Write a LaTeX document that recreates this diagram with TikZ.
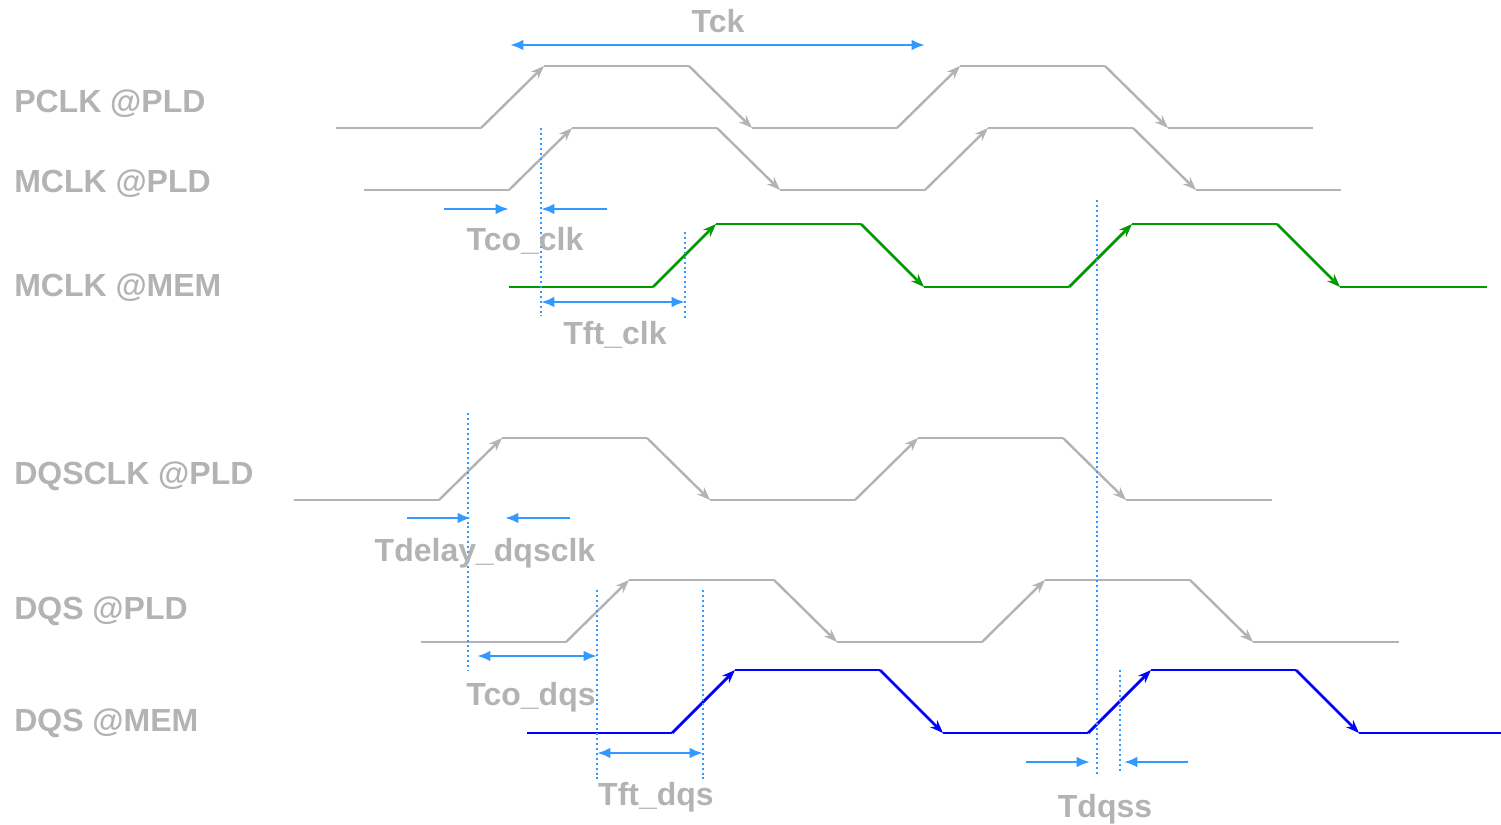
\documentclass[tikz,border=0pt]{standalone}
\usepackage{fontspec}
\setmainfont{Liberation Sans}
\usetikzlibrary{arrows.meta}
\definecolor{lblgray}{HTML}{B3B3B3}
\definecolor{ann}{HTML}{3399FF}
\definecolor{wgray}{HTML}{B3B3B3}
\definecolor{wgreen}{HTML}{009900}
\definecolor{wblue}{HTML}{0000FF}
\newcommand\mywave[6]{% style, x0, xr, ylow, yhigh, xend
  \draw[#1] (#2,#4) -- (#3,#4);
  \draw[#1,-{Stealth[length=10pt,width=7.5pt]}] (#3,#4) -- (#3+63,#5);
  \draw[#1] (#3+63,#5) -- (#3+208,#5);
  \draw[#1,-{Stealth[length=10pt,width=7.5pt]}] (#3+208,#5) -- (#3+271,#4);
  \draw[#1] (#3+271,#4) -- (#3+416,#4);
  \draw[#1,-{Stealth[length=10pt,width=7.5pt]}] (#3+416,#4) -- (#3+479,#5);
  \draw[#1] (#3+479,#5) -- (#3+624,#5);
  \draw[#1,-{Stealth[length=10pt,width=7.5pt]}] (#3+624,#5) -- (#3+687,#4);
  \draw[#1] (#3+687,#4) -- (#6,#4);
}
\begin{document}
\begin{tikzpicture}[x=0.75pt,y=-0.75pt,
  siglbl/.style={font=\fontsize{24}{28}\selectfont\bfseries, text=lblgray, inner sep=0pt, anchor=base west},
  tlbl/.style={font=\fontsize{24}{28}\selectfont\bfseries, text=lblgray, inner sep=0pt, anchor=base},
  graywave/.style={draw=wgray, line width=1.8pt},
  greenwave/.style={draw=wgreen, line width=2.1pt},
  bluewave/.style={draw=wblue, line width=2.1pt},
  annarrow/.style={draw=ann, line width=2pt, -{Latex[length=10pt,width=8pt]}},
  anndbl/.style={draw=ann, line width=2pt, {Latex[length=10pt,width=8pt]}-{Latex[length=10pt,width=8pt]}},
  mark line/.style={draw=ann, line width=1.5pt, dash pattern=on 1.5pt off 2.2pt}]
\useasboundingbox (0,0) rectangle (1501,824);

% signal labels
\node[siglbl] (lpclk) at (14,112) {PCLK @PLD};
\node[siglbl] (lmclkpld) at (14,192) {MCLK @PLD};
\node[siglbl] (lmclkmem) at (14,296) {MCLK @MEM};
\node[siglbl] (ldqsclk) at (14,484) {DQSCLK @PLD};
\node[siglbl] (ldqspld) at (14,619) {DQS @PLD};
\node[siglbl] (ldqsmem) at (14,731) {DQS @MEM};

% waveforms
\mywave{graywave}{336}{481}{128}{66}{1313}
\mywave{graywave}{364}{509}{190}{128}{1341}
\mywave{greenwave}{509}{653}{287}{224}{1487}
\mywave{graywave}{294}{439}{500}{438}{1272}
\mywave{graywave}{421}{566}{642}{580}{1399}
\mywave{bluewave}{527}{672}{733}{670}{1501}

% dotted marker lines
\coordinate (m1a) at (541,128); \coordinate (m1b) at (541,316);
\coordinate (m2a) at (685,232); \coordinate (m2b) at (685,318);
\coordinate (m3a) at (468,413); \coordinate (m3b) at (468,670);
\coordinate (m4a) at (597,590); \coordinate (m4b) at (597,780);
\coordinate (m5a) at (703,590); \coordinate (m5b) at (703,780);
\coordinate (m6a) at (1097,200); \coordinate (m6b) at (1097,775);
\coordinate (m7a) at (1120,670); \coordinate (m7b) at (1120,773);
\foreach \a/\b in {m1a/m1b,m2a/m2b,m3a/m3b,m4a/m4b,m5a/m5b,m6a/m6b,m7a/m7b}
  \draw[mark line] (\a) -- (\b);

% Tck
\coordinate (tck1) at (510,45); \coordinate (tck2) at (925,45);
\draw[anndbl] (tck1) -- (tck2);
\node[tlbl] (ttck) at (718,33) {Tck};

% Tco_clk
\coordinate (tc1a) at (444,209); \coordinate (tc1b) at (509,209);
\coordinate (tc2a) at (607,209); \coordinate (tc2b) at (541,209);
\draw[annarrow] (tc1a) -- (tc1b);
\draw[annarrow] (tc2a) -- (tc2b);
\node[tlbl] (ttcoclk) at (525,250) {Tco\_clk};

% Tft_clk
\coordinate (tf1) at (541,302); \coordinate (tf2) at (685,302);
\draw[anndbl] (tf1) -- (tf2);
\node[tlbl] (ttftclk) at (615,344) {Tft\_clk};

% Tdelay_dqsclk
\coordinate (td1a) at (407,518); \coordinate (td1b) at (471,518);
\coordinate (td2a) at (570,518); \coordinate (td2b) at (505,518);
\draw[annarrow] (td1a) -- (td1b);
\draw[annarrow] (td2a) -- (td2b);
\node[tlbl] (ttdelay) at (485,561) {Tdelay\_dqsclk};

% Tco_dqs
\coordinate (tq1) at (477,656); \coordinate (tq2) at (597,656);
\draw[anndbl] (tq1) -- (tq2);
\node[tlbl] (ttcodqs) at (531,705) {Tco\_dqs};

% Tft_dqs
\coordinate (tfd1) at (597,753); \coordinate (tfd2) at (703,753);
\draw[anndbl] (tfd1) -- (tfd2);
\node[tlbl] (ttftdqs) at (656,805) {Tft\_dqs};

% Tdqss
\coordinate (ts1a) at (1026,762); \coordinate (ts1b) at (1090,762);
\coordinate (ts2a) at (1188,762); \coordinate (ts2b) at (1124,762);
\draw[annarrow] (ts1a) -- (ts1b);
\draw[annarrow] (ts2a) -- (ts2b);
\node[tlbl] (ttdqss) at (1105,817) {Tdqss};
\end{tikzpicture}
\end{document}
